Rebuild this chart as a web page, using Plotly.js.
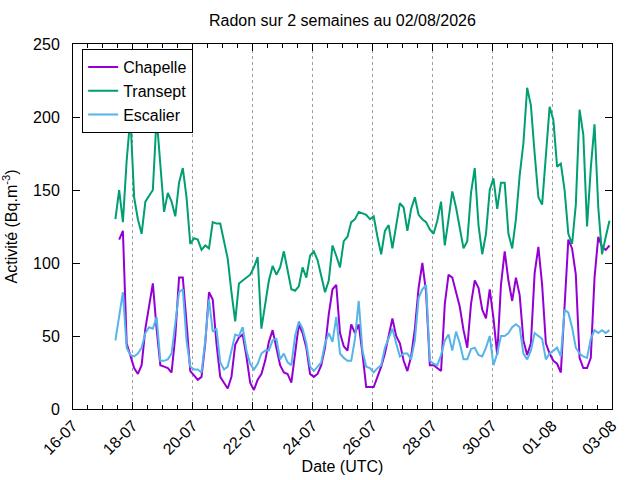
<!DOCTYPE html>
<html>
<head>
<meta charset="utf-8">
<script src="https://cdn.plot.ly/plotly-3.0.1.min.js"></script>
<style>
  body { margin: 0; background: #fff; }
  #chart { width: 640px; height: 480px; }
</style>
</head>
<body>
<div id="chart"></div>
<script>
// readings every 3 h from 17-07 10:00 UTC
const startTime = Date.UTC(2026, 6, 17, 10);
const stepHours = 3;

const chapelle = [
  null, 116, 122, 45, 36, 28, 24, 30, 55, 70, 86, 55, 30, 29, 28, 25, 50, 90, 90, 59,
  26, 23, 20, 22, 45, 80, 75, 45, 22, 18, 14, 22, 44, 49, 51, 36, 18, 13, 20, 24,
  33, 46, 54, 42, 30, 25, 24, 18, 38, 58, 52, 42, 24, 22, 24, 30, 42, 65, 82, 85,
  52, 43, 40, 58, 52, 58, 38, 15, 15, 15, 22, 29, 38, 50, 62, 50, 45, 33, 26, 36,
  55, 83, 100, 80, 30, 30, 28, 26, 72, 92, 90, 80, 70, 54, 42, 72, 88, 83, 68, 62,
  82, 62, 37, 85, 108, 88, 74, 90, 78, 47, 37, 45, 93, 111, 85, 45, 38, 33, 31, 25,
  70, 116, 110, 92, 35, 28, 28, 35, 90, 118, 111, 109, 112
];

const transept = [
  130, 150, 128, 170, 200, 145, 130, 120, 142, 146, 150, 200, 165, 135, 148, 142, 132, 155, 165, 145,
  113, 117, 116, 109, 112, 110, 128, 127, 127, 116, 103, 80, 60, 86, 88, 90, 92, 97, 104, 55,
  70, 88, 98, 92, 97, 108, 95, 82, 81, 84, 97, 90, 105, 108, 102, 90, 80, 88, 112, 105,
  97, 115, 118, 128, 130, 135, 134, 133, 130, 132, 118, 106, 122, 126, 110, 126, 141, 138, 122, 137,
  145, 133, 130, 128, 123, 120, 129, 142, 112, 130, 149, 138, 125, 110, 115, 148, 165, 126, 106, 120,
  150, 158, 137, 155, 155, 120, 110, 130, 160, 182, 220, 208, 175, 145, 140, 172, 207, 198, 166, 168,
  150, 120, 113, 140, 205, 188, 125, 165, 195, 138, 106, 118, 129
];

const escalier = [
  47, 62, 80, 42, 37, 36, 38, 42, 52, 56, 55, 63, 33, 33, 34, 38, 60, 80, 82, 47,
  29, 27, 27, 25, 47, 75, 53, 55, 32, 27, 29, 40, 51, 50, 56, 40, 31, 27, 31, 38,
  40, 40, 47, 48, 34, 38, 32, 30, 50, 60, 55, 45, 29, 26, 29, 32, 45, 52, 46, 63,
  38, 35, 33, 33, 48, 74, 40, 29, 28, 25, 28, 30, 42, 48, 55, 45, 36, 38, 38, 34,
  47, 76, 82, 85, 33, 31, 30, 37, 47, 51, 40, 53, 45, 34, 34, 41, 42, 37, 36, 42,
  50, 30, 38, 50, 50, 52, 56, 58, 56, 38, 34, 40, 52, 50, 48, 34, 38, 40, 42, 36,
  68, 66, 56, 42, 38, 36, 35, 48, 54, 52, 54, 52, 54
];

const times = [];
for (let i = 0; i < transept.length; i++) {
  const d = new Date(startTime + i * stepHours * 3600000);
  times.push(d.toISOString().slice(0, 19).replace('T', ' '));
}

const fontFamily = 'Liberation Sans, Arial, sans-serif';

Plotly.newPlot('chart', [{
  x: times,
  y: chapelle,
  name: 'Chapelle',
  mode: 'lines',
  line: {color: '#9400d3', width: 2},
}, {
  x: times,
  y: transept,
  name: 'Transept',
  mode: 'lines',
  line: {color: '#009e73', width: 2},
}, {
  x: times,
  y: escalier,
  name: 'Escalier',
  mode: 'lines',
  line: {color: '#56b4e9', width: 2},
}], {
  width: 640,
  height: 480,
  margin: {l: 73, r: 28, t: 44, b: 71},
  paper_bgcolor: '#ffffff',
  plot_bgcolor: '#ffffff',
  font: {family: fontFamily, size: 16, color: '#000'},
  title: {
    text: 'Radon sur 2 semaines au 02/08/2026',
    font: {size: 16},
    x: 0.535,
    xanchor: 'center',
    y: 0.958,
    yanchor: 'middle',
  },
  xaxis: {
    type: 'date',
    range: ['2026-07-16', '2026-08-03'],
    tick0: '2026-07-16',
    dtick: 2 * 86400000,
    tickformat: '%d-%m',
    tickangle: -45,
    ticks: 'inside',
    ticklen: 7,
    tickcolor: '#000',
    tickfont: {size: 16},
    minor: {dtick: 12 * 3600000, ticks: 'inside', ticklen: 4, tickcolor: '#000', showgrid: false},
    showline: true,
    linecolor: '#000',
    mirror: 'ticks',
    showgrid: true,
    gridcolor: '#a0a0a0',
    griddash: 'dot',
    gridwidth: 1,
    zeroline: false,
    title: {text: 'Date (UTC)', font: {size: 16}, standoff: 2},
  },
  yaxis: {
    range: [0, 250],
    dtick: 50,
    ticks: 'inside',
    ticklen: 7,
    tickcolor: '#000',
    tickfont: {size: 16},
    ticklabelstandoff: 9,
    showline: true,
    linecolor: '#000',
    mirror: 'ticks',
    showgrid: false,
    zeroline: false,
    title: {text: 'Activité (Bq.m<sup>-3</sup>)', font: {size: 16}, standoff: 12},
  },
  legend: {
    x: 0.017,
    y: 0.986,
    xanchor: 'left',
    yanchor: 'top',
    bgcolor: '#ffffff',
    bordercolor: '#000',
    borderwidth: 1,
    font: {size: 16},
    tracegroupgap: 0,
  },
  showlegend: true,
}, {displayModeBar: false});
</script>
</body>
</html>
